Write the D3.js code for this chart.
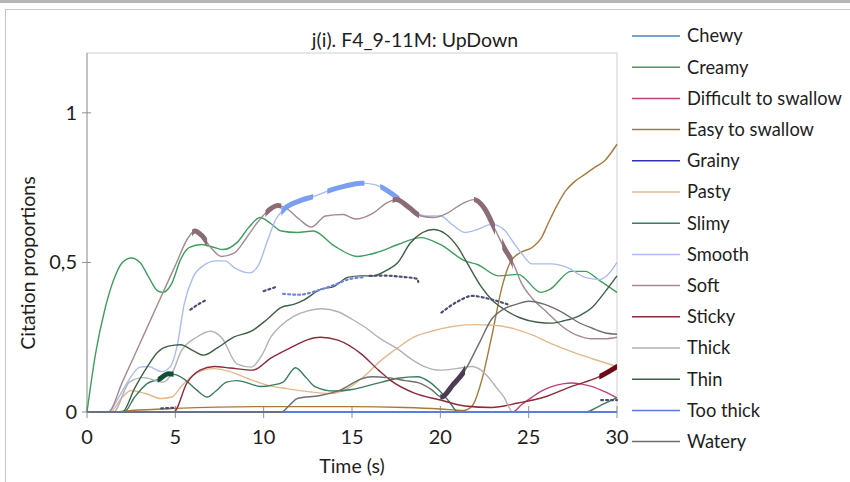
<!DOCTYPE html>
<html><head><meta charset="utf-8">
<script src="https://cdn.jsdelivr.net/npm/d3@7"></script>
<style>body{margin:0;background:#fff}svg{display:block}text{font-family:Lato,"Open Sans",sans-serif;fill:#1e1e1e}</style>
</head><body><svg id="c" width="850" height="482"></svg>
<script>
// ---- data ----
const seriesNames = ["Chewy","Creamy","Difficult to swallow","Easy to swallow","Grainy","Pasty","Slimy","Smooth","Soft","Sticky","Thick","Thin","Too thick","Watery"];
const seriesColors = ["#4f81bd","#3d9e5f","#c0407a","#a8793a","#3030b0","#e2b98e","#3a7d5e","#aabcf0","#a48892","#8b2a3a","#b2b2b2","#3d5f45","#5b7de0","#6e6e6e"];
const chewy = [[0,0],[30,0]];
const creamy = [[0,0],[0.5,0.2],[1,0.34],[1.5,0.44],[2,0.5],[2.5,0.515],[3,0.5],[3.5,0.45],[4,0.405],[4.3,0.4],[4.8,0.43],[5.3,0.51],[5.8,0.55],[6.5,0.56],[7.2,0.55],[7.7,0.543],[8.5,0.567],[9.2,0.62],[9.8,0.65],[10.4,0.63],[11,0.605],[11.9,0.6],[12.8,0.605],[14,0.555],[15.3,0.52],[16.5,0.535],[17.6,0.56],[18.9,0.583],[20,0.56],[21.4,0.505],[22.1,0.493],[23.3,0.455],[24.4,0.46],[25.7,0.4],[26.2,0.41],[27.4,0.47],[28.2,0.47],[29,0.44],[30,0.4]];
const difficult = [[0,0],[24.1,0],[24.6,0.025],[25.2,0.05],[25.8,0.072],[26.3,0.085],[27,0.095],[27.4,0.097],[28,0.093],[28.6,0.085],[29.3,0.068],[30,0.047]];
const easy = [[0,0],[1.5,0],[2.5,0.005],[5,0.012],[10,0.018],[15,0.018],[18,0.015],[20,0.01],[21.3,0.005],[21.8,0.02],[22.3,0.097],[22.9,0.25],[23.5,0.42],[24,0.505],[24.6,0.535],[25.2,0.55],[25.7,0.58],[26.1,0.63],[26.6,0.69],[27.1,0.74],[27.6,0.77],[28.2,0.795],[28.8,0.82],[29.3,0.84],[30,0.895]];
const grainy = [[0,0],[30,0]];
const pasty = [[0,0],[1.3,0],[2,0.05],[2.5,0.072],[3.3,0.062],[4.2,0.045],[4.8,0.05],[5.4,0.09],[6.2,0.13],[7.2,0.145],[8.1,0.135],[9.1,0.112],[10.2,0.09],[11.3,0.078],[12.5,0.068],[13.8,0.062],[14.8,0.08],[15.7,0.12],[16.6,0.17],[17.6,0.215],[18.5,0.25],[19.5,0.27],[20.6,0.285],[21.9,0.292],[23,0.29],[24.2,0.278],[25.3,0.255],[26.4,0.225],[27.5,0.2],[28.6,0.178],[30,0.152]];
const slimy = [[0,0],[2.1,0],[2.7,0.05],[3.4,0.095],[4.1,0.11],[4.6,0.128],[5,0.125],[5.5,0.11],[6.2,0.074],[6.8,0.05],[7.3,0.07],[7.9,0.1],[8.5,0.105],[9.2,0.095],[9.8,0.085],[10.5,0.09],[11.1,0.1],[11.8,0.148],[12.4,0.115],[12.9,0.085],[14,0.07],[15,0.075],[15.7,0.085],[16.7,0.1],[17.6,0.113],[18.7,0.118],[19.4,0.1],[19.9,0.074],[20.5,0.035],[21,0],[28.2,0],[29,0.02],[30,0.048]];
const smooth = [[0,0],[1.2,0],[1.8,0.05],[2.4,0.11],[3,0.15],[3.5,0.152],[4.2,0.135],[4.7,0.15],[5.1,0.22],[5.5,0.36],[6,0.45],[6.6,0.49],[7.3,0.505],[7.8,0.505],[8.4,0.48],[9.2,0.465],[9.7,0.49],[10.2,0.57],[10.7,0.645],[11.1,0.675],[12,0.705],[12.8,0.72],[13.7,0.74],[14.6,0.755],[15.5,0.765],[16.3,0.76],[17,0.74],[17.7,0.71],[18.4,0.675],[19.2,0.655],[20,0.655],[20.7,0.625],[21.4,0.6],[22.1,0.61],[22.9,0.627],[23.6,0.61],[24.1,0.57],[24.6,0.53],[25.2,0.495],[26.3,0.495],[27.1,0.485],[28.2,0.45],[29,0.443],[29.5,0.46],[30,0.5]];
const soft = [[0,0],[1.2,0],[2,0.1],[3,0.23],[4,0.36],[5,0.49],[5.7,0.58],[6.1,0.605],[6.5,0.59],[7,0.55],[7.6,0.52],[8.3,0.53],[9,0.58],[9.6,0.63],[10.2,0.67],[10.8,0.69],[11.3,0.68],[12,0.645],[12.7,0.618],[13.5,0.655],[14.5,0.66],[15.2,0.645],[16.2,0.665],[17,0.7],[17.5,0.71],[18.2,0.685],[18.9,0.655],[19.6,0.65],[20.4,0.665],[21.2,0.695],[21.9,0.71],[22.5,0.68],[23.1,0.61],[23.6,0.55],[24.1,0.5],[24.6,0.43],[25.2,0.38],[26,0.335],[26.9,0.286],[27.8,0.255],[28.5,0.245],[29.3,0.245],[30,0.25]];
const sticky = [[0,0],[4.9,0],[5.66,0.097],[6.4,0.14],[7.2,0.152],[8.1,0.147],[9.4,0.14],[10.4,0.18],[11.7,0.22],[12.5,0.242],[13.2,0.25],[14.2,0.24],[15.5,0.195],[16.5,0.14],[17.2,0.105],[18.5,0.064],[20,0.04],[21.4,0.02],[22.9,0.015],[24.4,0.03],[25.9,0.05],[27.4,0.085],[29,0.118],[30,0.152]];
const thick = [[0,0],[1.5,0],[2.4,0.1],[3.2,0.115],[4.3,0.1],[4.9,0.14],[5.3,0.2],[6.2,0.25],[7,0.27],[7.6,0.25],[8.5,0.16],[9.3,0.15],[9.9,0.19],[10.4,0.25],[11,0.29],[11.7,0.32],[12.5,0.338],[13.3,0.345],[14.2,0.335],[15,0.31],[15.7,0.285],[16.6,0.245],[17.6,0.21],[18.4,0.175],[19.1,0.152],[20,0.14],[20.9,0.145],[21.8,0.152],[22.3,0.14],[22.7,0.118],[23.2,0.08],[23.6,0.05],[24.1,0],[30,0]];
const thin = [[0,0],[2,0],[2.7,0.08],[3.4,0.15],[4,0.2],[4.6,0.22],[5.3,0.225],[6,0.205],[6.6,0.19],[7.4,0.215],[8.3,0.25],[9.3,0.27],[10.2,0.31],[11,0.35],[11.7,0.36],[12.3,0.375],[13.2,0.41],[14,0.42],[14.75,0.45],[15.5,0.455],[16.2,0.455],[17,0.475],[17.6,0.5],[18.3,0.565],[19,0.6],[19.6,0.61],[20.3,0.595],[21,0.55],[21.5,0.5],[22.3,0.42],[23,0.37],[23.7,0.34],[24.5,0.315],[25.5,0.3],[26.3,0.297],[27,0.305],[27.8,0.32],[28.6,0.35],[29.3,0.4],[30,0.455]];
const toothick = [[0,0],[30,0]];
const watery = [[0,0],[11,0],[11.5,0.025],[11.9,0.045],[13.2,0.055],[14.4,0.075],[15.5,0.11],[16.1,0.118],[17,0.115],[18,0.105],[18.9,0.095],[19.5,0.075],[20.06,0.05],[20.7,0.09],[21.4,0.14],[22.2,0.23],[22.9,0.31],[23.6,0.345],[24.3,0.36],[25,0.37],[25.9,0.36],[27,0.33],[27.8,0.3],[28.6,0.28],[29.3,0.265],[30,0.26]];
const seriesData = [chewy,creamy,difficult,easy,grainy,pasty,slimy,smooth,soft,sticky,thick,thin,toothick,watery];
// significant (bold) stretches: series index, start, end
const boldSeries = [6,8,8,7,7,7,8,8,8,13,9];
const boldStart = [4.0,5.95,10.1,11.0,13.6,16.6,17.3,21.9,23.5,20.0,29.0];
const boldEnd   = [4.9,6.8,11.0,12.8,15.7,17.7,18.8,23.1,24.1,21.4,30.0];
const boldColors = ["#124f36","#8c6c74","#8c6c74","#7b9ff0","#7b9ff0","#7b9ff0","#8c6c74","#8c6c74","#8c6c74","#4e3a52","#6e0a18"];
// dotted reference stretches
const dot1 = [[4.2,0.012],[4.9,0.014]];
const dot2 = [[5.85,0.342],[6.3,0.36],[6.8,0.376]];
const dot3 = [[10.0,0.404],[10.8,0.42]];
const dot4 = [[11.1,0.395],[12,0.392],[13,0.405],[14,0.425],[14.9,0.445],[15.6,0.45]];
const dot5 = [[16,0.455],[16.8,0.456],[17.8,0.452],[18.7,0.445],[18.75,0.435]];
const dot6 = [[20.06,0.332],[21,0.37],[21.8,0.388],[22.9,0.376],[23.8,0.36]];
const dot7 = [[29.1,0.04],[30,0.04]];
const dotData = [dot1,dot2,dot3,dot4,dot5,dot6,dot7];
const dotColors = ["#4a5070","#4a5070","#4a5070","#7286d8","#4a5070","#4a5070","#4a5070"];
const xTicks = [0,5,10,15,20,25,30];
const yTicks = [0,0.5,1];
const yTickLabels = ["0","0,5","1"];

// ---- drawing ----
const svg = d3.select("#c");
svg.append("rect").attr("x",0).attr("y",0).attr("width",850).attr("height",3).attr("fill","#b5b5b5");
svg.append("rect").attr("x",5.5).attr("y",9.5).attr("width",860).attr("height",490).attr("fill","none").attr("stroke","#c4c4c4");

const L=87,R=617,T=53,B=412;
const x = d3.scaleLinear().domain([0,30]).range([L,R]);
const y = d3.scaleLinear().domain([0,1.2]).range([B,T]);

svg.append("rect").attr("x",L).attr("y",T).attr("width",R-L).attr("height",B-T).attr("fill","none").attr("stroke","#cfcfcf");

// axes (drawn beneath the series)
const ax = svg.append("g");
ax.append("line").attr("x1",L).attr("x2",L).attr("y1",T).attr("y2",B).attr("stroke","#a0a0a0");
ax.append("line").attr("x1",L).attr("x2",R).attr("y1",B).attr("y2",B).attr("stroke","#a0a0a0");
yTicks.forEach((v,i)=>{
  ax.append("line").attr("x1",L-5).attr("x2",L+4).attr("y1",y(v)).attr("y2",y(v)).attr("stroke","#909090");
  ax.append("text").attr("x",L-10).attr("y",y(v)).attr("dy","0.35em").attr("text-anchor","end")
    .attr("font-size",20).text(yTickLabels[i]);
});
xTicks.forEach(v=>{
  ax.append("line").attr("x1",x(v)).attr("x2",x(v)).attr("y1",B-6).attr("y2",B+6).attr("stroke","#909090");
  ax.append("text").attr("x",x(v)).attr("y",B+32).attr("text-anchor","middle").attr("font-size",20).text(v);
});

const defs = svg.append("defs");
boldStart.forEach((s,i)=>{
  defs.append("clipPath").attr("id","b"+i).append("rect")
    .attr("x",x(s)).attr("y",T-10).attr("width",x(boldEnd[i])-x(s)).attr("height",B-T+20);
});

const line = d3.line().x(d=>x(d[0])).y(d=>y(d[1])).curve(d3.curveMonotoneX);

const g = svg.append("g");
seriesData.forEach((d,i)=>{
  g.append("path").attr("d",line(d)).attr("fill","none").attr("stroke",seriesColors[i])
   .attr("stroke-width", i===12 ? 2 : 1.4);
});
dotData.forEach((d,i)=>{
  g.append("path").attr("d",line(d)).attr("fill","none").attr("stroke",dotColors[i]).attr("stroke-width",2.2)
   .attr("stroke-dasharray","2,3").attr("stroke-linecap","round");
});
boldSeries.forEach((si,i)=>{
  g.append("path").attr("d",line(seriesData[si])).attr("fill","none").attr("stroke",boldColors[i])
   .attr("stroke-width",5).attr("stroke-linecap","round").attr("clip-path","url(#b"+i+")");
});

svg.append("text").attr("x",415).attr("y",47).attr("text-anchor","middle").attr("font-size",19.5).text("j(i). F4_9-11M: UpDown");
svg.append("text").attr("x",352).attr("y",473).attr("text-anchor","middle").attr("font-size",19.5).text("Time (s)");
svg.append("text").attr("transform","translate(35,263) rotate(-90)").attr("text-anchor","middle").attr("font-size",19.5).text("Citation proportions");

// legend
const lg = svg.append("g");
seriesNames.forEach((n,i)=>{
  const yy = 36 + i*31.2;
  lg.append("line").attr("x1",632).attr("x2",680).attr("y1",yy).attr("y2",yy).attr("stroke",seriesColors[i]).attr("stroke-width",1.5);
  lg.append("text").attr("x",687).attr("y",yy).attr("dy","0.35em").attr("font-size",18.3).text(n);
});
</script></body></html>
